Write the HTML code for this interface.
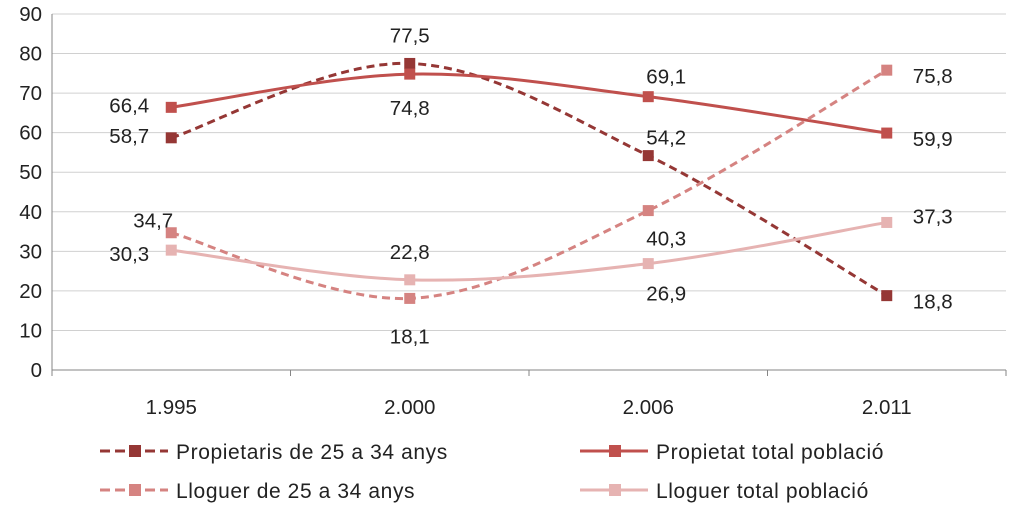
<!DOCTYPE html>
<html><head><meta charset="utf-8"><style>
body{margin:0;background:#fff;}
svg{display:block;font-family:"Liberation Sans",sans-serif;}
</style></head><body>
<svg id="chart" width="1024" height="508"></svg>
<script>
const categories=["1.995","2.000","2.006","2.011"];
const yTicks=[0,10,20,30,40,50,60,70,80,90];
const seriesNames=["Propietaris de 25 a 34 anys","Propietat total població","Lloguer de 25 a 34 anys","Lloguer total població"];
const propietaris=[58.7,77.5,54.2,18.8];
const propietatTotal=[66.4,74.8,69.1,59.9];
const lloguerJoves=[34.7,18.1,40.3,75.8];
const lloguerTotal=[30.3,22.8,26.9,37.3];

const NS="http://www.w3.org/2000/svg";
const svg=document.getElementById("chart");
const L=52,R=1006,T=14,B=370;
const FS=20.5;
const x=i=>L+(R-L)/categories.length*(i+0.5);
const y=v=>B-(v/90)*(B-T);
function mk(t,a,p){const e=document.createElementNS(NS,t);for(const k in a)e.setAttribute(k,a[k]);(p||svg).appendChild(e);return e;}
const fmt=v=>v.toFixed(1).replace(".",",");

yTicks.forEach(t=>{
  const g=mk("line",{x1:L,x2:R,y1:y(t),y2:y(t),stroke:t===0?"#868686":"#d0d0d0","stroke-width":1});
  
  
  const tx=mk("text",{x:L-10,y:y(t)+7,"text-anchor":"end","font-size":FS,fill:"#222"});
  tx.textContent=t;
  
  
});
mk("line",{x1:L,x2:L,y1:T,y2:B,stroke:"#868686"});
for(let i=0;i<=categories.length;i++){
  const xx=L+(R-L)/categories.length*i;
  mk("line",{x1:xx,x2:xx,y1:B,y2:B+6,stroke:"#868686"});
}
categories.forEach((c,i)=>{
  const tx=mk("text",{x:x(i),y:B+44,"text-anchor":"middle","font-size":FS,fill:"#222"});
  tx.textContent=c;
  
  
});

function smooth(pts){
  let d=`M${pts[0][0]},${pts[0][1]}`;
  for(let i=0;i<pts.length-1;i++){
    const p0=pts[i-1]||pts[i],p1=pts[i],p2=pts[i+1],p3=pts[i+2]||p2;
    const k=6;
    const c1=[p1[0]+(p2[0]-p0[0])/k,p1[1]+(p2[1]-p0[1])/k];
    const c2=[p2[0]-(p3[0]-p1[0])/k,p2[1]-(p3[1]-p1[1])/k];
    d+=` C${c1[0]},${c1[1]} ${c2[0]},${c2[1]} ${p2[0]},${p2[1]}`;
  }
  return d;
}
const styles=[
 {data:propietaris,color:"#953735",marker:"#953735",dash:"8,5",off:[[-42,-2],[0,-28],[18,-18],[46,6]]},
 {data:propietatTotal,color:"#c0504d",marker:"#c0504d",dash:null,off:[[-42,-2],[0,34],[18,-20],[46,6]]},
 {data:lloguerJoves,color:"#d58381",marker:"#d58381",dash:"8,5",off:[[-18,-12],[0,38],[18,28],[46,6]]},
 {data:lloguerTotal,color:"#e6b3b2",marker:"#e6b3b2",dash:null,off:[[-42,4],[0,-28],[18,30],[46,-6]]}
];
const names=["propietaris","propietat-total","lloguer-joves","lloguer-total"];
styles.forEach((s,si)=>{
  const pts=s.data.map((v,i)=>[x(i),y(v)]);
  const a={d:smooth(pts),fill:"none",stroke:s.color,"stroke-width":3};
  if(s.dash)a["stroke-dasharray"]=s.dash;
  const p=mk("path",a);
  
  
  s.data.forEach((v,i)=>{
    const r=mk("rect",{x:x(i)-5,y:y(v)-5,width:10,height:10,fill:s.marker,stroke:s.color,"stroke-width":1});
    
    
    const t=mk("text",{x:x(i)+s.off[i][0],y:y(v)+s.off[i][1]+7,"text-anchor":"middle","font-size":FS,fill:"#222"});
    t.textContent=fmt(v);
    
    
  });
});
const legendPos=[[100,451],[580,451],[100,490],[580,490]];
styles.forEach((s,si)=>{
  const [lx,ly]=legendPos[si];
  const g=mk("g",{});
  
  
  const a={x1:lx,x2:lx+68,y1:ly,y2:ly,stroke:s.color,"stroke-width":3};
  if(s.dash)a["stroke-dasharray"]="10,5";
  mk("line",a,g);
  mk("rect",{x:lx+29,y:ly-6,width:12,height:12,fill:s.marker},g);
  const t=mk("text",{x:lx+76,y:ly+8,"font-size":21,"letter-spacing":"0.6",fill:"#222"},g);
  t.textContent=seriesNames[si];
});
</script>
</body></html>
